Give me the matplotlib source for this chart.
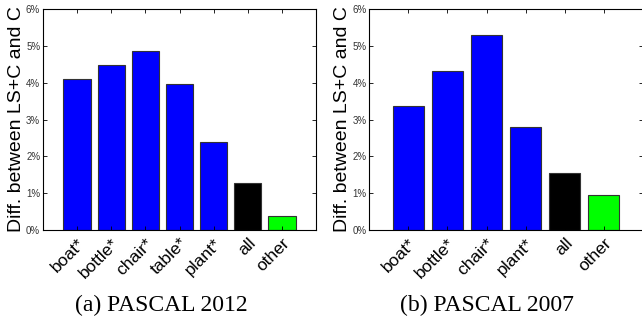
import numpy as np
import matplotlib
matplotlib.use('Agg')
import matplotlib.pyplot as plt
from matplotlib.ticker import FuncFormatter

# Data (percent)
labels_2012 = ['boat*', 'bottle*', 'chair*', 'table*', 'plant*', 'all', 'other']
values_2012 = [4.10, 4.49, 4.85, 3.97, 2.38, 1.27, 0.37]
colors_2012 = ['#0000ff'] * 5 + ['#000000', '#00ff00']

labels_2007 = ['boat*', 'bottle*', 'chair*', 'plant*', 'all', 'other']
values_2007 = [3.38, 4.33, 5.30, 2.79, 1.55, 0.95]
colors_2007 = ['#0000ff'] * 4 + ['#000000', '#00ff00']

plt.rcParams['font.family'] = 'Liberation Sans'

fig = plt.figure(figsize=(6.42, 3.28), dpi=100)
ax1 = fig.add_axes([43 / 642, 1 - 230 / 328, 273 / 642, 221 / 328])
ax2 = fig.add_axes([369.3 / 642, 1 - 230 / 328, 273.5 / 642, 221 / 328])


def draw(ax, labels, values, colors, caption, cap_x):
    x = np.arange(1, len(labels) + 1)
    ax.bar(x, values, width=0.8, color=colors, edgecolor='#333333', linewidth=0.8)
    ax.set_xlim(0, len(labels) + 1)
    ax.set_ylim(0, 6)
    ax.set_yticks(range(0, 7))
    ax.yaxis.set_major_formatter(FuncFormatter(lambda v, p: '%d%%' % v))
    ax.set_xticks(x)
    ax.set_xticklabels(labels, rotation=45, ha='right', rotation_mode='anchor',
                       fontsize=12.5)
    ax.tick_params(axis='y', labelsize=7, labelcolor='#333333', pad=2)
    ax.tick_params(direction='in', top=True, right=True, length=3, width=0.6)
    ax.tick_params(axis='x', pad=4)
    for s in ax.spines.values():
        s.set_linewidth(0.8)
    ax.set_ylabel('Diff. between LS+C and C', fontsize=14, labelpad=1)
    # caption under each panel, x given in pixels
    bb = ax.get_position()
    fig.text(cap_x / 642, 1 - 305 / 328, caption, ha='center', va='center',
             fontsize=17, family='Liberation Serif')


draw(ax1, labels_2012, values_2012, colors_2012, '(a) PASCAL 2012', 161)
draw(ax2, labels_2007, values_2007, colors_2007, '(b) PASCAL 2007', 487)

fig.savefig('out.png', dpi=100)
